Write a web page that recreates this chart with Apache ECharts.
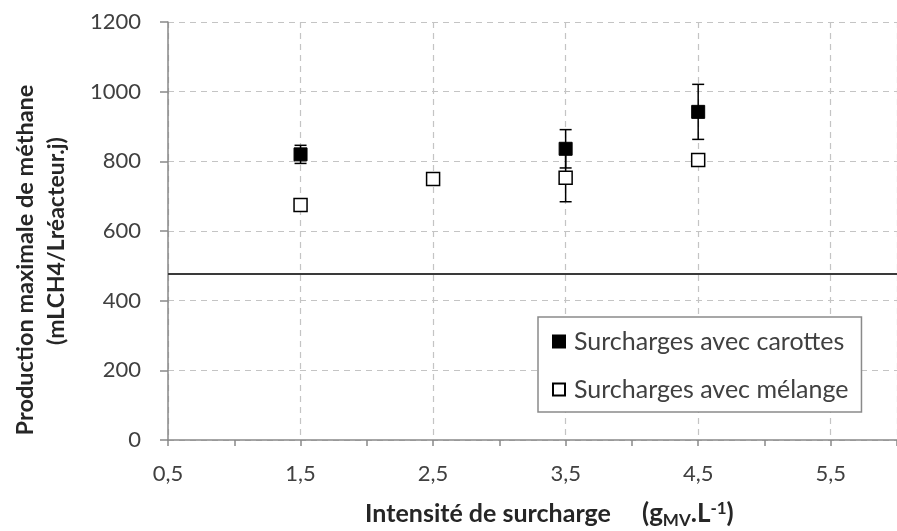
<!DOCTYPE html>
<html>
<head>
<meta charset="utf-8">
<script src="https://cdn.jsdelivr.net/npm/echarts@6/dist/echarts.min.js"></script>
<style>html,body{margin:0;padding:0;background:#fff;}#chart{width:897px;height:531px;}</style>
</head>
<body>
<div id="chart"></div>
<script>
// ---- data ----
var carottesX = [1.5, 3.5, 4.5];
var carottesY = [820, 836, 942];
var carottesErr = [26, 55, 79];

var melangeX = [1.5, 2.5, 3.5, 4.5];
var melangeY = [675, 749, 753, 804];
var melangeErr = [5, null, 69, null];

var referenceLevel = 476;

var seriesNames = ['Surcharges avec carottes', 'Surcharges avec mélange'];
var yTitleLines = ['Production maximale de méthane', '(mLCH4/Lréacteur.j)'];
var xTitleMain = 'Intensité de surcharge';

// ---- build ----
var FONT = 'Lato';
var TXT = '#404040';

function pairs(xs, ys) { return xs.map(function (x, i) { return [x, ys[i]]; }); }
function errData(xs, ys, es) {
  var out = [];
  xs.forEach(function (x, i) { if (es[i] != null) out.push([x, ys[i] - es[i], ys[i] + es[i]]); });
  return out;
}
function renderErr(params, api) {
  var x = api.value(0), lo = api.value(1), hi = api.value(2);
  var pLo = api.coord([x, lo]), pHi = api.coord([x, hi]);
  var half = 6;
  var st = { stroke: '#000', lineWidth: 1.5 };
  return {
    type: 'group',
    children: [
      { type: 'line', shape: { x1: pLo[0], y1: pLo[1], x2: pHi[0], y2: pHi[1] }, style: st },
      { type: 'line', shape: { x1: pLo[0] - half, y1: pLo[1], x2: pLo[0] + half, y2: pLo[1] }, style: st },
      { type: 'line', shape: { x1: pHi[0] - half, y1: pHi[1], x2: pHi[0] + half, y2: pHi[1] }, style: st }
    ]
  };
}

var chart = echarts.init(document.getElementById('chart'), null, { renderer: 'canvas' });
var option = {
  animation: false,
  backgroundColor: '#fff',
  textStyle: { fontFamily: FONT },
  grid: { left: 168, top: 22, width: 738, height: 418, containLabel: false },
  xAxis: {
    type: 'value', min: 0.5, max: 6.0, interval: 1,
    axisLine: { show: true, lineStyle: { color: '#898989', width: 1.5 } },
    axisTick: { show: true, inside: false, length: 6, lineStyle: { color: '#898989', width: 1.5 } },
    minorTick: { show: true, splitNumber: 2, length: 6, lineStyle: { color: '#898989', width: 1.5 } },
    splitLine: { show: true, lineStyle: { color: '#c4c4c4', type: [6, 5], width: 1.2 } },
    axisLabel: {
      margin: 23, fontSize: 22, color: TXT, fontFamily: FONT, showMaxLabel: false,
      formatter: function (v) { return v.toFixed(1).replace('.', ','); }
    }
  },
  yAxis: {
    type: 'value', min: 0, max: 1200, interval: 200,
    axisLine: { show: true, lineStyle: { color: '#898989', width: 1.5 } },
    axisTick: { show: true, length: 8, lineStyle: { color: '#898989', width: 1.5 } },
    splitLine: { show: true, lineStyle: { color: '#c4c4c4', type: [6, 5], width: 1.2 } },
    axisLabel: { margin: 27, fontSize: 22, color: TXT, fontFamily: FONT,
      formatter: function (v) { return String(v); } }
  },
  legend: {
    left: 538, top: 317, orient: 'vertical',
    backgroundColor: '#fff', borderColor: '#8a8a8a', borderWidth: 1.5, borderRadius: 0,
    padding: [12, 13, 10, 14],
    itemGap: 23, itemWidth: 12, itemHeight: 12,
    textStyle: { fontSize: 25, color: TXT, fontFamily: FONT, padding: [0, 0, 0, 4] },
    data: [
      { name: seriesNames[0], icon: 'rect' },
      { name: seriesNames[1], icon: 'rect' }
    ]
  },
  graphic: [
    { type: 'text', x: 25, y: 260, rotation: Math.PI / 2, style: { text: yTitleLines[0], font: 'bold 23.5px Lato', fill: '#262626', textAlign: 'center', textVerticalAlign: 'middle' } },
    { type: 'text', x: 57, y: 241, rotation: Math.PI / 2, style: { text: yTitleLines[1], font: 'bold 23px Lato', fill: '#262626', textAlign: 'center', textVerticalAlign: 'middle' } },
    { type: 'text', x: 488, y: 514, style: { text: xTitleMain, font: 'bold 25px Lato', fill: '#262626', textAlign: 'center', textVerticalAlign: 'middle' } },
    { type: 'text', x: 642, y: 514, style: {
        text: '{m|(g}{s|MV}{m|.L}{p|-1}{m|)}',
        textAlign: 'left', textVerticalAlign: 'middle',
        rich: {
          m: { font: 'bold 26px Lato', fill: '#262626', lineHeight: 36, verticalAlign: 'middle' },
          s: { font: 'bold 17px Lato', fill: '#262626', lineHeight: 36, verticalAlign: 'bottom', padding: [0, 0, 3, 0] },
          p: { font: 'bold 17px Lato', fill: '#262626', lineHeight: 36, verticalAlign: 'top', padding: [4, 0, 0, 0] }
        }
      } }
  ],
  series: [
    {
      name: 'ref', type: 'line', silent: true, symbol: 'none', data: [],
      markLine: {
        silent: true, symbol: 'none', label: { show: false },
        lineStyle: { color: '#3a3a3a', width: 2, type: 'solid' },
        data: [{ yAxis: referenceLevel }]
      }
    },
    { name: 'errC', type: 'custom', renderItem: renderErr, data: errData(carottesX, carottesY, carottesErr), z: 3 },
    { name: 'errM', type: 'custom', renderItem: renderErr, data: errData(melangeX, melangeY, melangeErr), z: 3 },
    {
      name: seriesNames[1], type: 'scatter', symbol: 'rect', symbolSize: 13, z: 4,
      itemStyle: { color: '#fff', borderColor: '#000', borderWidth: 1.5, opacity: 1 },
      data: pairs(melangeX, melangeY)
    },
    {
      name: seriesNames[0], type: 'scatter', symbol: 'rect', symbolSize: 13, z: 5,
      itemStyle: { color: '#000', borderColor: '#000', borderWidth: 1, opacity: 1 },
      data: pairs(carottesX, carottesY)
    }
  ]
};
chart.setOption(option);
</script>
</body>
</html>
